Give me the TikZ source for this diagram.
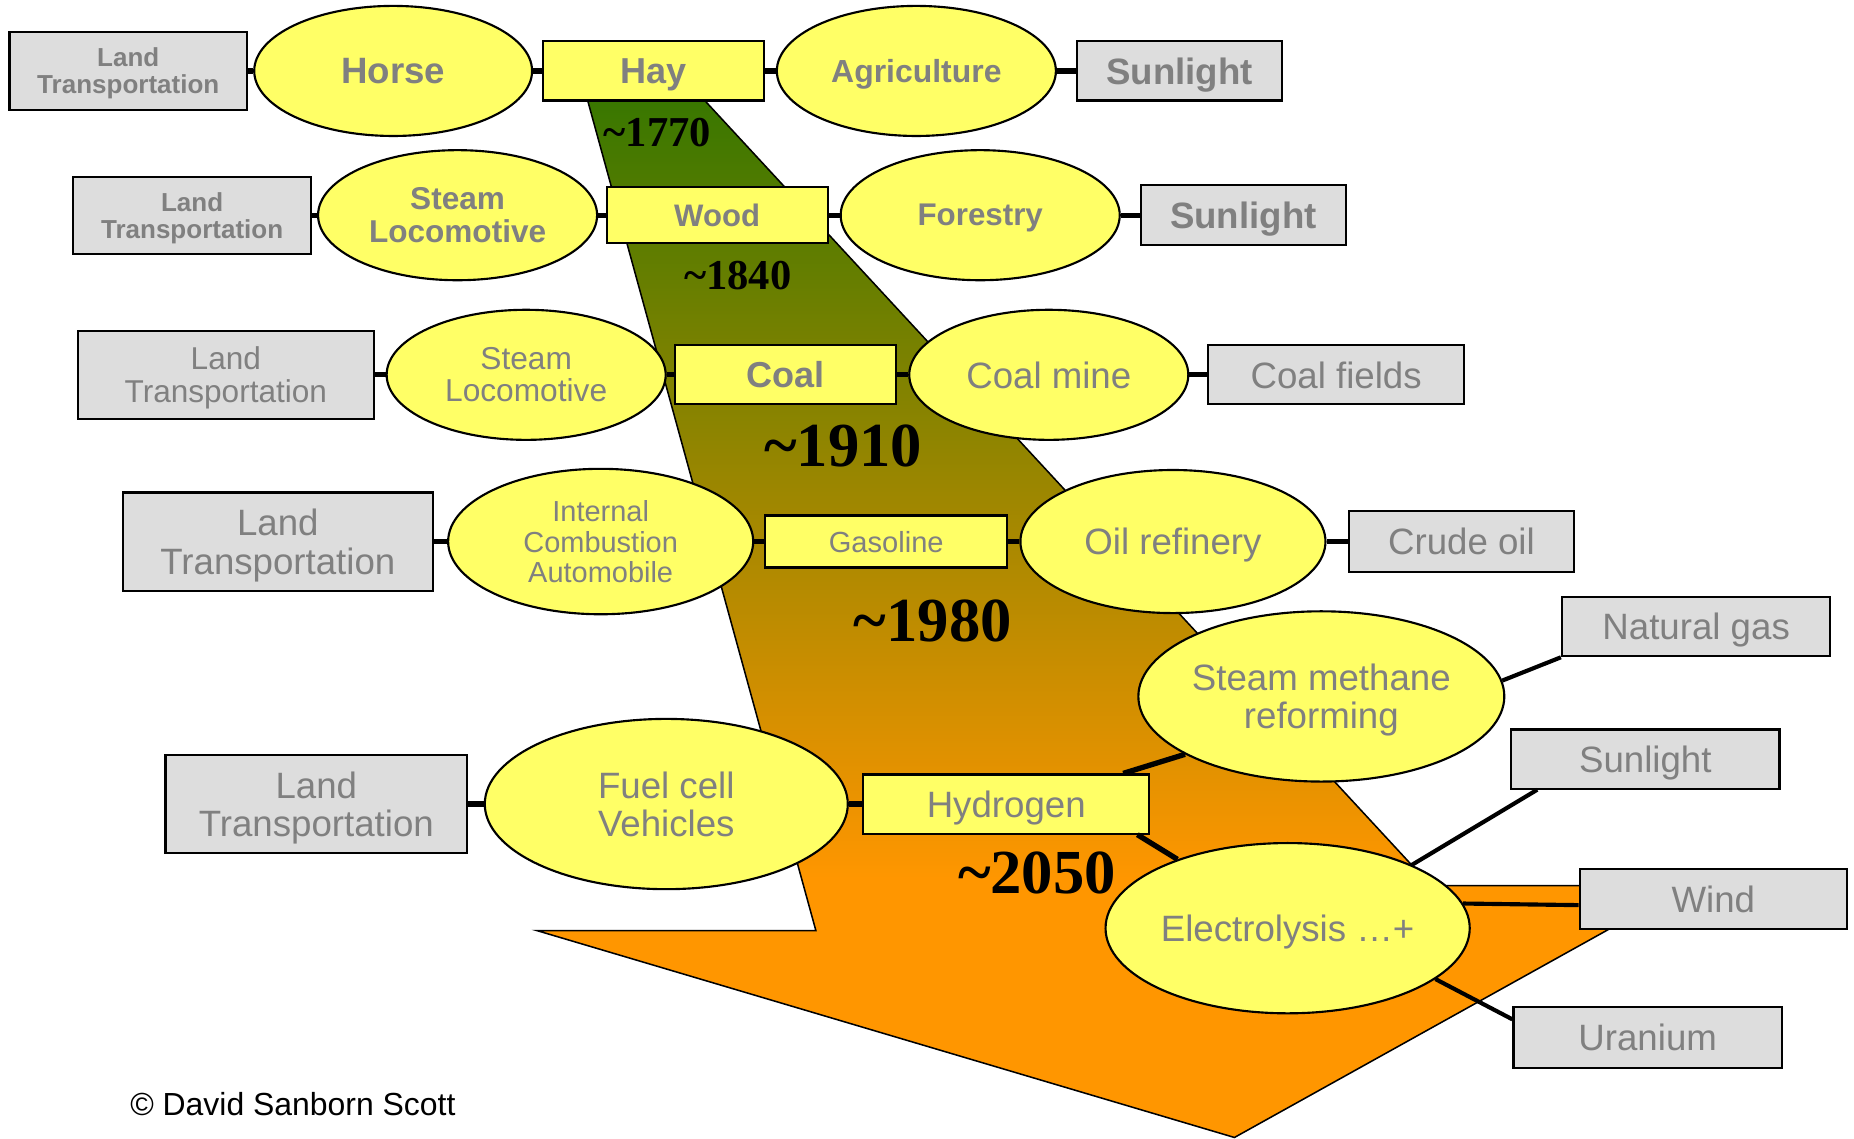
\documentclass[tikz,border=0pt]{standalone}
\usepackage{fontspec}
\setmainfont{Liberation Sans}
\newfontfamily\yearfont{Liberation Serif}
\usepackage{xcolor}
\usepackage{tikz}
\usetikzlibrary{shapes.geometric}
\definecolor{ovalyellow}{HTML}{FFFF66}
\definecolor{boxgrey}{HTML}{DDDDDD}
\definecolor{labelgrey}{HTML}{808080}
\definecolor{flowgreen}{RGB}{57,119,0}
\definecolor{floworange}{RGB}{255,150,0}
\pgfdeclareverticalshading{eraflow}{100bp}{color(0bp)=(floworange); color(37.5bp)=(floworange); color(75bp)=(flowgreen); color(100bp)=(flowgreen)}

\begin{document}
\begin{tikzpicture}[x=1pt, y=-1pt,
    sz/.style 2 args={minimum width=#1pt, minimum height=#2pt},
    fnt/.style 2 args={font=\fontsize{#1}{#2}\selectfont},
    bfnt/.style 2 args={font=\bfseries\fontsize{#1}{#2}\selectfont},
    oval/.style={ellipse, draw, line width=1.8pt, fill=ovalyellow, inner sep=0pt, text=labelgrey, align=center, text depth=0pt},
    greybox/.style={rectangle, draw, line width=1.8pt, fill=boxgrey, inner sep=0pt, text=labelgrey, align=center, text depth=0pt},
    fuelbox/.style={rectangle, draw, line width=1.8pt, fill=ovalyellow, inner sep=0pt, text=labelgrey, align=center, text depth=0pt},
    yearlabel/.style={inner sep=0pt, text=black}]
      \useasboundingbox (0,0) rectangle (1568,963);

      % the flow of eras
      \shadedraw[shading=eraflow, line width=1.3pt] (497,85) -- (596,85) -- (1210,749) -- (1427,749)
          -- (1044,962) -- (454,787) -- (690,787) -- cycle;

      \node[yearlabel, font=\yearfont\bfseries\fontsize{36}{36}\selectfont] (yr1770) at (556,112) {\textasciitilde1770};
      \node[yearlabel, font=\yearfont\bfseries\fontsize{36}{36}\selectfont] (yr1840) at (624,233) {\textasciitilde1840};
      \node[yearlabel, font=\yearfont\bfseries\fontsize{53}{53}\selectfont] (yr1910) at (713,377) {\textasciitilde1910};
      \node[yearlabel, font=\yearfont\bfseries\fontsize{53}{53}\selectfont] (yr1980) at (789,525) {\textasciitilde1980};
      \node[yearlabel, font=\yearfont\bfseries\fontsize{53}{53}\selectfont] (yr2050) at (877,738) {\textasciitilde2050};

      % row 1
      \node[greybox, sz={201}{66}, bfnt={22}{23}] (T1) at (108.5,60) {Land\\Transportation};
      \node[oval, sz={235}{110}, bfnt={31}{33}] (V1) at (332.5,60) {Horse};
      \node[fuelbox, sz={187}{50}, bfnt={30.5}{33}] (F1) at (552.5,60) {Hay};
      \node[oval, sz={236}{110}, bfnt={27}{29}] (P1) at (775,60) {Agriculture};
      \node[greybox, sz={173}{50}, bfnt={31}{33}] (S1) at (997.5,60) {Sunlight};

      % row 2
      \node[greybox, sz={201}{65}, bfnt={22}{23}] (T2) at (162.5,182) {Land\\Transportation};
      \node[oval, sz={236}{110}, bfnt={26.7}{28}] (V2) at (387,182) {Steam\\Locomotive};
      \node[fuelbox, sz={187}{47}, bfnt={26.3}{28}] (F2) at (606.5,182) {Wood};
      \node[oval, sz={236}{110}, bfnt={26.5}{28}] (P2) at (829,182) {Forestry};
      \node[greybox, sz={173}{51}, bfnt={31}{33}] (S2) at (1051.5,182) {Sunlight};

      % row 3
      \node[greybox, sz={250}{74}, fnt={26.7}{28}] (T3) at (191,317) {Land\\Transportation};
      \node[oval, sz={236}{110}, fnt={26.8}{27}] (V3) at (445,317) {Steam\\Locomotive};
      \node[fuelbox, sz={187}{50}, bfnt={30.5}{33}] (F3) at (664.5,317) {Coal};
      \node[oval, sz={236}{110}, fnt={31}{33}] (P3) at (887,317) {Coal mine};
      \node[greybox, sz={216}{50}, fnt={31}{33}] (S3) at (1130,317) {Coal fields};

      % row 4
      \node[greybox, sz={262}{83}, fnt={31}{33}] (T4) at (235,458) {Land\\Transportation};
      \node[oval, sz={258}{123}, fnt={24.5}{26}] (V4) at (508,458) {Internal\\Combustion\\Automobile};
      \node[fuelbox, sz={205}{44}, fnt={24.6}{26}] (F4) at (749.5,458) {Gasoline};
      \node[oval, sz={258}{121}, fnt={31}{33}] (P4) at (992,458) {Oil refinery};
      \node[greybox, sz={190}{51}, fnt={31}{33}] (S4) at (1236,458) {Crude oil};

      % row 5
      \node[greybox, sz={255}{83}, fnt={31}{32}] (T5) at (267.5,680) {Land\\Transportation};
      \node[oval, sz={307}{144}, fnt={31}{32}] (V5) at (563.5,680) {Fuel cell\\Vehicles};
      \node[fuelbox, sz={242}{50}, fnt={31}{33}] (F5) at (851,680) {Hydrogen};
      \node[oval, sz={309}{144}, fnt={31}{32}] (P5a) at (1117.5,589) {Steam methane\\reforming};
      \node[oval, sz={308}{144}, fnt={31}{33}] (P5b) at (1089,785) {Electrolysis …+};
      \node[greybox, sz={227}{50}, fnt={31}{33}] (S5a) at (1434.5,530) {Natural gas};
      \node[greybox, sz={227}{50}, fnt={31}{33}] (S5b) at (1391.5,642) {Sunlight};
      \node[greybox, sz={226}{51}, fnt={31}{33}] (S5c) at (1449,760.5) {Wind};
      \node[greybox, sz={227}{51}, fnt={31}{33}] (S5d) at (1393.5,877.5) {Uranium};

      \node[anchor=west, inner sep=0pt, fnt={27}{29}] (credit) at (110,934) {© David Sanborn Scott};

      \begin{scope}[every edge/.style={draw, line width=4.5pt}]
        \path (T1) edge (V1) (V1) edge (F1) (F1) edge (P1) (P1) edge (S1);
        \path (T2) edge (V2) (V2) edge (F2) (F2) edge (P2) (P2) edge (S2);
        \path (T3) edge (V3) (V3) edge (F3) (F3) edge (P3) (P3) edge (S3);
        \path (T4) edge (V4) (V4) edge (F4) (F4) edge (P4) (P4) edge (S4);
        \path (T5) edge (V5) (V5) edge (F5);
        \path [line width=6pt] ([xshift=-23pt]F5.north east) edge (P5a.203);
        \path [line width=6pt] ([xshift=-11pt]F5.south east) edge (P5b.148);
      \end{scope}
      \begin{scope}[every edge/.style={draw, line width=3.5pt}]
        \path (P5a.5) edge (S5a.south west);
        \path (P5b.27) edge ([xshift=23pt]S5b.south west);
        \path (P5b.8) edge ([yshift=-5pt]S5c.west);
        \path (P5b.-19) edge ([yshift=-11pt]S5d.north west);
      \end{scope}
\end{tikzpicture}
\end{document}
